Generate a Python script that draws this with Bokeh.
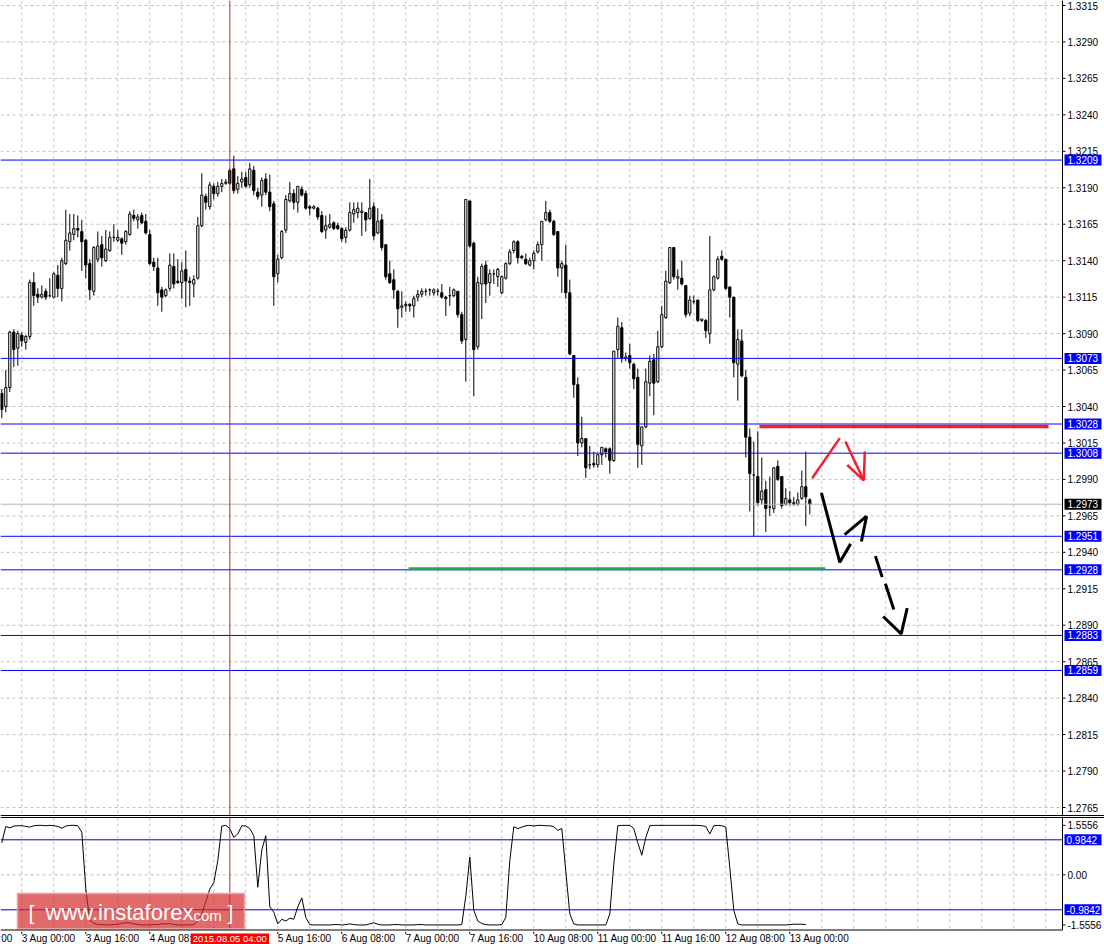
from bokeh.plotting import figure
from bokeh.layouts import column
from bokeh.models import Range1d, ColumnDataSource
from bokeh.embed import file_html
from bokeh.resources import INLINE
from bokeh.core.properties import value

# ------------------------------------------------------------------ data
# hourly bars, index 0 = 3 Aug 2015 00:00 (weekend removed)
bars = list(range(-5, 198))
opens = [
    1.3049, 1.3040, 1.3053, 1.3091, 1.3080, 1.3089, 1.3084, 1.3088, 1.3125, 1.3117,
    1.3115, 1.3119, 1.3116, 1.3115, 1.3130, 1.3121, 1.3138, 1.3153, 1.3158, 1.3162,
    1.3160, 1.3154, 1.3138, 1.3119, 1.3141, 1.3151, 1.3140, 1.3147, 1.3156, 1.3154,
    1.3155, 1.3153, 1.3158, 1.3171, 1.3168, 1.3171, 1.3167, 1.3158, 1.3139, 1.3135,
    1.3120, 1.3116, 1.3121, 1.3136, 1.3126, 1.3125, 1.3134, 1.3126, 1.3124, 1.3128,
    1.3164, 1.3184, 1.3177, 1.3191, 1.3186, 1.3191, 1.3193, 1.3202, 1.3203, 1.3189,
    1.3194, 1.3197, 1.3192, 1.3202, 1.3187, 1.3185, 1.3196, 1.3187, 1.3179, 1.3131,
    1.3142, 1.3161, 1.3181, 1.3186, 1.3180, 1.3189, 1.3186, 1.3177, 1.3176, 1.3176,
    1.3171, 1.3161, 1.3163, 1.3166, 1.3164, 1.3162, 1.3156, 1.3161, 1.3172, 1.3173,
    1.3173, 1.3173, 1.3169, 1.3177, 1.3159, 1.3168, 1.3151, 1.3131, 1.3127, 1.3119,
    1.3108, 1.3109, 1.3110, 1.3109, 1.3115, 1.3117, 1.3119, 1.3120, 1.3118, 1.3119,
    1.3118, 1.3115, 1.3116, 1.3116, 1.3119, 1.3103, 1.3086, 1.3181, 1.3152, 1.3081,
    1.3124, 1.3137, 1.3125, 1.3131, 1.3129, 1.3118, 1.3128, 1.3138, 1.3147, 1.3153,
    1.3143, 1.3141, 1.3137, 1.3140, 1.3146, 1.3151, 1.3168, 1.3173, 1.3167, 1.3160,
    1.3135, 1.3137, 1.3118, 1.3075, 1.3055, 1.3015, 1.3018, 1.3000, 1.3001, 1.3000,
    1.3007, 1.3011, 1.3011, 1.3003, 1.3079, 1.3094, 1.3073, 1.3075, 1.3069, 1.3060,
    1.3013, 1.3026, 1.3056, 1.3072, 1.3057, 1.3081, 1.3101, 1.3125, 1.3149, 1.3128,
    1.3128, 1.3123, 1.3104, 1.3112, 1.3113, 1.3099, 1.3099, 1.3090, 1.3120, 1.3128,
    1.3143, 1.3141, 1.3122, 1.3115, 1.3069, 1.3085, 1.3060, 1.3019, 1.2993, 1.2992,
    1.2976, 1.2983, 1.2971, 1.2970, 1.2999, 1.2992, 1.2973, 1.2976, 1.2974, 1.2973,
    1.2977, 1.2985, 1.2976,
]
highs = [
    1.3052, 1.3065, 1.3092, 1.3093, 1.3092, 1.3091, 1.3089, 1.3127, 1.3132, 1.3121,
    1.3123, 1.3121, 1.3128, 1.3132, 1.3137, 1.3142, 1.3175, 1.3172, 1.3172, 1.3171,
    1.3168, 1.3155, 1.3141, 1.3150, 1.3160, 1.3157, 1.3161, 1.3160, 1.3165, 1.3161,
    1.3156, 1.3161, 1.3174, 1.3175, 1.3172, 1.3173, 1.3172, 1.3161, 1.3142, 1.3142,
    1.3122, 1.3121, 1.3145, 1.3145, 1.3141, 1.3139, 1.3147, 1.3129, 1.3130, 1.3170,
    1.3200, 1.3186, 1.3194, 1.3193, 1.3194, 1.3196, 1.3196, 1.3203, 1.3212, 1.3198,
    1.3201, 1.3201, 1.3207, 1.3205, 1.3190, 1.3197, 1.3200, 1.3199, 1.3181, 1.3144,
    1.3161, 1.3185, 1.3194, 1.3189, 1.3191, 1.3191, 1.3188, 1.3178, 1.3178, 1.3177,
    1.3174, 1.3171, 1.3172, 1.3167, 1.3166, 1.3163, 1.3163, 1.3180, 1.3180, 1.3180,
    1.3180, 1.3173, 1.3196, 1.3180, 1.3176, 1.3172, 1.3151, 1.3140, 1.3134, 1.3120,
    1.3119, 1.3112, 1.3111, 1.3116, 1.3120, 1.3121, 1.3121, 1.3121, 1.3121, 1.3121,
    1.3124, 1.3116, 1.3122, 1.3121, 1.3119, 1.3105, 1.3182, 1.3181, 1.3153, 1.3129,
    1.3138, 1.3140, 1.3134, 1.3134, 1.3135, 1.3130, 1.3139, 1.3148, 1.3154, 1.3154,
    1.3144, 1.3145, 1.3142, 1.3147, 1.3153, 1.3167, 1.3181, 1.3175, 1.3168, 1.3160,
    1.3140, 1.3151, 1.3127, 1.3075, 1.3060, 1.3033, 1.3018, 1.3013, 1.3009, 1.3007,
    1.3012, 1.3012, 1.3012, 1.3078, 1.3101, 1.3098, 1.3077, 1.3083, 1.3070, 1.3066,
    1.3026, 1.3066, 1.3075, 1.3076, 1.3092, 1.3109, 1.3133, 1.3149, 1.3149, 1.3134,
    1.3140, 1.3123, 1.3116, 1.3116, 1.3113, 1.3100, 1.3100, 1.3157, 1.3130, 1.3143,
    1.3147, 1.3141, 1.3122, 1.3115, 1.3093, 1.3093, 1.3065, 1.3025, 1.3016, 1.3023,
    1.3005, 1.2989, 1.2992, 1.2998, 1.3003, 1.2992, 1.2984, 1.2982, 1.2978, 1.2981,
    1.2996, 1.3009, 1.2977,
]
lows = [
    1.3032, 1.3036, 1.3050, 1.3067, 1.3068, 1.3081, 1.3079, 1.3086, 1.3109, 1.3111,
    1.3114, 1.3113, 1.3115, 1.3114, 1.3115, 1.3112, 1.3137, 1.3147, 1.3154, 1.3156,
    1.3133, 1.3128, 1.3113, 1.3116, 1.3139, 1.3136, 1.3139, 1.3146, 1.3153, 1.3153,
    1.3144, 1.3151, 1.3157, 1.3167, 1.3162, 1.3165, 1.3158, 1.3137, 1.3133, 1.3109,
    1.3105, 1.3115, 1.3119, 1.3121, 1.3124, 1.3114, 1.3108, 1.3109, 1.3115, 1.3127,
    1.3163, 1.3175, 1.3175, 1.3182, 1.3184, 1.3187, 1.3192, 1.3192, 1.3186, 1.3186,
    1.3190, 1.3190, 1.3190, 1.3185, 1.3182, 1.3177, 1.3185, 1.3174, 1.3109, 1.3125,
    1.3141, 1.3159, 1.3180, 1.3175, 1.3173, 1.3184, 1.3175, 1.3171, 1.3175, 1.3168,
    1.3159, 1.3155, 1.3162, 1.3161, 1.3161, 1.3153, 1.3152, 1.3160, 1.3166, 1.3169,
    1.3157, 1.3160, 1.3168, 1.3154, 1.3158, 1.3147, 1.3127, 1.3124, 1.3114, 1.3094,
    1.3101, 1.3105, 1.3105, 1.3101, 1.3112, 1.3115, 1.3116, 1.3116, 1.3116, 1.3116,
    1.3114, 1.3102, 1.3109, 1.3115, 1.3101, 1.3083, 1.3057, 1.3149, 1.3047, 1.3079,
    1.3100, 1.3111, 1.3116, 1.3124, 1.3122, 1.3117, 1.3127, 1.3137, 1.3145, 1.3138,
    1.3141, 1.3137, 1.3136, 1.3134, 1.3145, 1.3140, 1.3167, 1.3166, 1.3157, 1.3129,
    1.3118, 1.3114, 1.3075, 1.3046, 1.3006, 1.3012, 1.2991, 1.2997, 1.2998, 1.2998,
    1.3000, 1.3005, 1.2994, 1.3002, 1.3073, 1.3070, 1.3071, 1.3066, 1.3052, 1.2998,
    1.3000, 1.3025, 1.3047, 1.3034, 1.3056, 1.3080, 1.3100, 1.3124, 1.3127, 1.3120,
    1.3123, 1.3101, 1.3102, 1.3110, 1.3098, 1.3098, 1.3087, 1.3083, 1.3119, 1.3127,
    1.3140, 1.3120, 1.3101, 1.3060, 1.3044, 1.3060, 1.3005, 1.2968, 1.2951, 1.2972,
    1.2973, 1.2954, 1.2965, 1.2967, 1.2989, 1.2970, 1.2972, 1.2972, 1.2972, 1.2972,
    1.2976, 1.2958, 1.2966,
]
closes = [
    1.3038, 1.3053, 1.3091, 1.3079, 1.3090, 1.3085, 1.3088, 1.3125, 1.3116, 1.3115,
    1.3117, 1.3115, 1.3116, 1.3131, 1.3121, 1.3140, 1.3154, 1.3159, 1.3162, 1.3161,
    1.3153, 1.3137, 1.3120, 1.3149, 1.3150, 1.3142, 1.3148, 1.3156, 1.3156, 1.3156,
    1.3152, 1.3160, 1.3172, 1.3169, 1.3170, 1.3166, 1.3159, 1.3138, 1.3136, 1.3118,
    1.3115, 1.3120, 1.3137, 1.3124, 1.3125, 1.3133, 1.3126, 1.3125, 1.3127, 1.3164,
    1.3185, 1.3180, 1.3192, 1.3186, 1.3191, 1.3193, 1.3194, 1.3193, 1.3188, 1.3193,
    1.3196, 1.3191, 1.3203, 1.3188, 1.3184, 1.3195, 1.3187, 1.3177, 1.3129, 1.3141,
    1.3160, 1.3182, 1.3186, 1.3180, 1.3191, 1.3185, 1.3176, 1.3176, 1.3177, 1.3170,
    1.3160, 1.3164, 1.3165, 1.3162, 1.3162, 1.3155, 1.3161, 1.3173, 1.3175, 1.3176,
    1.3174, 1.3168, 1.3176, 1.3157, 1.3167, 1.3149, 1.3129, 1.3125, 1.3120, 1.3107,
    1.3109, 1.3110, 1.3109, 1.3114, 1.3117, 1.3119, 1.3119, 1.3120, 1.3120, 1.3119,
    1.3115, 1.3114, 1.3116, 1.3120, 1.3103, 1.3085, 1.3182, 1.3150, 1.3079, 1.3125,
    1.3136, 1.3124, 1.3131, 1.3131, 1.3134, 1.3129, 1.3138, 1.3146, 1.3153, 1.3142,
    1.3142, 1.3138, 1.3140, 1.3145, 1.3151, 1.3167, 1.3173, 1.3167, 1.3158, 1.3135,
    1.3138, 1.3118, 1.3076, 1.3055, 1.3015, 1.3018, 1.2998, 1.3000, 1.3000, 1.3007,
    1.3012, 1.3009, 1.3003, 1.3078, 1.3095, 1.3073, 1.3074, 1.3070, 1.3059, 1.3014,
    1.3026, 1.3057, 1.3071, 1.3056, 1.3081, 1.3103, 1.3126, 1.3149, 1.3129, 1.3129,
    1.3124, 1.3103, 1.3113, 1.3112, 1.3099, 1.3100, 1.3092, 1.3120, 1.3129, 1.3141,
    1.3141, 1.3121, 1.3115, 1.3070, 1.3086, 1.3061, 1.3019, 1.2994, 1.2993, 1.2974,
    1.2982, 1.2970, 1.2971, 1.2998, 1.2990, 1.2972, 1.2977, 1.2974, 1.2973, 1.2976,
    1.2985, 1.2978, 1.2973,
]

# oscillator in the lower window
ind_bars = list(range(-5, 197))
ind_values = [
    0.90, 1.36, 1.32, 1.37, 1.38, 1.38, 1.36, 1.34, 1.38, 1.39,
    1.39, 1.38, 1.39, 1.38, 1.36, 1.31, 1.37, 1.39, 1.39, 1.38,
    1.20, -0.40, -1.28, -1.36, -1.40, -1.40, -1.41, -1.41, -1.40, -1.39,
    -1.36, -1.35, -1.35, -1.38, -1.40, -1.41, -1.41, -1.41, -1.40, -1.40,
    -1.38, -1.38, -1.37, -1.40, -1.41, -1.41, -1.41, -1.41, -1.40, -1.30,
    -1.10, -0.75, -0.40, -0.22, 0.40, 1.37, 1.39, 1.30, 1.05, 1.15,
    1.38, 1.37, 1.30, 1.10, -0.35, 0.70, 1.10, -0.90, -1.05, -1.38,
    -1.25, -1.30, -1.22, -1.25, -0.90, -0.65, -1.20, -1.40, -1.41, -1.41,
    -1.41, -1.41, -1.41, -1.40, -1.40, -1.41, -1.40, -1.38, -1.40, -1.41,
    -1.41, -1.41, -1.38, -1.35, -1.39, -1.41, -1.41, -1.41, -1.40, -1.40,
    -1.41, -1.41, -1.41, -1.41, -1.40, -1.40, -1.41, -1.41, -1.41, -1.41,
    -1.41, -1.41, -1.41, -1.41, -1.41, -1.40, -0.60, 0.50, -1.00, -1.30,
    -1.37, -1.40, -1.41, -1.41, -1.41, -1.40, -1.20, 0.40, 1.35, 1.30,
    1.34, 1.38, 1.39, 1.37, 1.39, 1.39, 1.38, 1.38, 1.35, 1.25,
    1.30, 0.10, -1.10, -1.38, -1.41, -1.41, -1.41, -1.41, -1.41, -1.41,
    -1.41, -1.41, -1.10, 0.30, 1.38, 1.39, 1.39, 1.39, 1.30, 0.90,
    0.55, 1.05, 1.38, 1.39, 1.39, 1.39, 1.39, 1.39, 1.39, 1.39,
    1.39, 1.39, 1.39, 1.39, 1.39, 1.38, 1.36, 1.15, 1.38, 1.39,
    1.38, 1.34, 0.20, -1.00, -1.38, -1.41, -1.41, -1.41, -1.41, -1.41,
    -1.41, -1.41, -1.41, -1.41, -1.41, -1.41, -1.41, -1.40, -1.39, -1.39,
    -1.39, -1.40,
]
ind_levels = [0.9842, -0.9842]
ind_level_labels = ["0.9842", "-0.9842"]
ind_scale_labels = ["1.5556", "0.00", "-1.5556"]

# price scale ticks
price_ticks = [1.3315, 1.3290, 1.3265, 1.3240, 1.3215, 1.3190, 1.3165, 1.3140,
               1.3115, 1.3090, 1.3065, 1.3040, 1.3015, 1.2990, 1.2965, 1.2940,
               1.2915, 1.2890, 1.2865, 1.2840, 1.2815, 1.2790, 1.2765]
price_tick_labels = ["%.4f" % v for v in price_ticks]
# horizontal levels drawn on the chart
level_prices = [1.3209, 1.3073, 1.3028, 1.3008, 1.2951, 1.2928, 1.2883, 1.2859]
level_labels = ["%.4f" % v for v in level_prices]

# time scale
time_tick_bars = [-16, 0, 16, 32, 64, 80, 96, 112, 128, 144, 160, 176, 192]
time_tick_labels = ["31 Jul 08:00", "3 Aug 00:00", "3 Aug 16:00", "4 Aug 08:00",
                    "5 Aug 16:00", "6 Aug 08:00", "7 Aug 00:00", "7 Aug 16:00",
                    "10 Aug 08:00", "11 Aug 00:00", "11 Aug 16:00", "12 Aug 08:00",
                    "13 Aug 00:00"]
crosshair_bar = 52
crosshair_label = "2015.08.05 04:00"

# analyst drawings (bar index, price)
red_level = {"x": [184.4, 256.7], "y": [1.30263, 1.30263]}
green_level = {"x": [96.7, 200.9], "y": [1.29287, 1.29287]}
red_arrow_x = [[197.6, 204.5], [205.9, 210.5], [206.35, 210.5], [210.75, 210.5]]
red_arrow_y = [[1.29908, 1.30183], [1.30160, 1.29893], [1.29999, 1.29893], [1.30091, 1.29893]]
black_arrow_x = [[199.9, 204.5, 207.2], [205.7, 211.2], [209.9, 211.2],
                 [213.4, 215.1], [215.9, 218.0], [215.35, 219.85, 221.35]]
black_arrow_y = [[1.29808, 1.29332, 1.29458], [1.29522, 1.29648], [1.29474, 1.29648],
                 [1.29374, 1.29230], [1.29184, 1.29008], [1.28960, 1.28841, 1.29017]]

# ------------------------------------------------------------------ geometry
REF_W = 1104
PAGE_W = 1104
BAR0_PX, PX_PER_BAR = 21.3, 4.0
PRICE_REF, PRICE_REF_Y, PX_PER_PRICE = 1.3315, 5.0, 14582.0
IND_ZERO_Y, PX_PER_IND = 874.3, 35.56
AXIS_PX = 1062
MAIN_H, IND_H, LAB_H = 816, 115, 13


def bx(px):
    return (px - BAR0_PX) / PX_PER_BAR


def yp(py):
    return PRICE_REF - (py - PRICE_REF_Y) / PX_PER_PRICE


def yi(py):
    return (IND_ZERO_Y - py) / PX_PER_IND


FONT = value("Liberation Sans")
GRID_C = "#c0c0c0"
BLUE = "#0000ff"
CROSS_C = "#e01e1e"
LBL = "10px"

xr = Range1d(bx(0), bx(REF_W))


def make_fig(h, yr):
    f = figure(width=PAGE_W, height=h, x_range=xr, y_range=yr,
               output_backend="svg", toolbar_location=None,
               x_axis_location=None, y_axis_location=None, min_border=0,
               outline_line_color=None, background_fill_color="white",
               border_fill_color="white")
    f.grid.visible = False
    return f


grid_bars = [b for b in range(0, 400, 8) if BAR0_PX + PX_PER_BAR * b < AXIS_PX - 4]

# ------------------------------------------------------------------ main window
main = make_fig(MAIN_H, Range1d(yp(816), yp(0)))

main.segment(x0=grid_bars, x1=grid_bars, y0=[yp(0)] * len(grid_bars), y1=[yp(815)] * len(grid_bars),
             line_color=GRID_C, line_width=1, line_dash="3 3")
main.segment(x0=[bx(0)] * len(price_ticks), x1=[bx(AXIS_PX - 2)] * len(price_ticks),
             y0=price_ticks, y1=price_ticks, line_color=GRID_C, line_width=1, line_dash="3 3")

body_top = [max(o, c) for o, c in zip(opens, closes)]
body_bot = [min(o, c) for o, c in zip(opens, closes)]
body_col = ["white" if c >= o else "black" for o, c in zip(opens, closes)]
src = ColumnDataSource(dict(x=bars, o=opens, h=highs, l=lows, c=closes,
                            top=body_top, bot=body_bot, col=body_col))
main.segment(x0="x", x1="x", y0="l", y1="h", source=src, line_color="black", line_width=1)
main.vbar(x="x", width=0.55, top="top", bottom="bot", source=src,
          fill_color="col", line_color="black", line_width=1)

# level lines
n_lv = len(level_prices)
main.segment(x0=[bx(0)] * n_lv, x1=[bx(AXIS_PX)] * n_lv, y0=level_prices, y1=level_prices,
             line_color=BLUE, line_width=1)
last_close = closes[-1]
main.segment(x0=[bx(0)], x1=[bx(AXIS_PX)], y0=[last_close], y1=[last_close],
             line_color="#b4b4b4", line_width=1)

# drawings
main.line(x=green_level["x"], y=green_level["y"], line_color="#22a84a", line_width=3)
main.line(x=red_level["x"], y=red_level["y"], line_color="#ee2233", line_width=3.5)
main.multi_line(xs=red_arrow_x, ys=red_arrow_y, line_color="#ee2233", line_width=2.5)
main.multi_line(xs=black_arrow_x, ys=black_arrow_y, line_color="black", line_width=3)

# crosshair
main.segment(x0=[crosshair_bar], x1=[crosshair_bar], y0=[yp(0)], y1=[yp(815)],
             line_color=CROSS_C, line_width=1)

# right price scale
main.segment(x0=[bx(AXIS_PX)], x1=[bx(AXIS_PX)], y0=[yp(0)], y1=[yp(816)], line_color="black", line_width=1)
main.segment(x0=[bx(0)], x1=[bx(REF_W)], y0=[yp(815)], y1=[yp(815)], line_color="black", line_width=1)
n_pt = len(price_ticks)
main.segment(x0=[bx(AXIS_PX)] * n_pt, x1=[bx(AXIS_PX + 3)] * n_pt, y0=price_ticks, y1=price_ticks,
             line_color="black", line_width=1)
main.text(x=[bx(AXIS_PX + 5)] * n_pt, y=price_ticks, text=price_tick_labels,
          text_font=FONT, text_font_size=LBL, text_align="left", text_baseline="middle",
          text_color="black")
half = 5.5 / PX_PER_PRICE
main.quad(left=[bx(AXIS_PX + 2)] * n_lv, right=[bx(AXIS_PX + 39)] * n_lv,
          top=[v + half for v in level_prices], bottom=[v - half for v in level_prices],
          fill_color=BLUE, line_color=None)
main.text(x=[bx(AXIS_PX + 5)] * n_lv, y=level_prices, text=level_labels,
          text_font=FONT, text_font_size=LBL, text_align="left", text_baseline="middle",
          text_color="white")
main.quad(left=[bx(AXIS_PX + 2)], right=[bx(AXIS_PX + 39)], top=[last_close + half],
          bottom=[last_close - half], fill_color="black", line_color=None)
main.text(x=[bx(AXIS_PX + 5)], y=[last_close], text=["%.4f" % last_close],
          text_font=FONT, text_font_size=LBL, text_align="left", text_baseline="middle",
          text_color="white")

# ------------------------------------------------------------------ indicator window
ind = make_fig(IND_H, Range1d(yi(931), yi(816)))
ind.segment(x0=grid_bars, x1=grid_bars, y0=[yi(817)] * len(grid_bars), y1=[yi(929.5)] * len(grid_bars),
            line_color=GRID_C, line_width=1, line_dash="3 3")
ind.segment(x0=[bx(0)], x1=[bx(AXIS_PX - 2)], y0=[0], y1=[0], line_color=GRID_C,
            line_width=1, line_dash="3 3")
ind.segment(x0=[bx(0)] * 2, x1=[bx(AXIS_PX)] * 2, y0=ind_levels, y1=ind_levels,
            line_color="#0000c8", line_width=1)
ind.line(x=ind_bars, y=ind_values, line_color="black", line_width=1)
ind.segment(x0=[crosshair_bar], x1=[crosshair_bar], y0=[yi(816)], y1=[yi(929.5)],
            line_color=CROSS_C, line_width=1)

# watermark
ind.quad(left=[bx(17)], right=[bx(244)], top=[yi(893)], bottom=[yi(928.3)],
         fill_color="#d42b2b", fill_alpha=0.7, line_color="#eaa0a0", line_width=1.5)
ind.text(x=[bx(28), bx(45), bx(193), bx(227)], y=[yi(912.0), yi(911.5), yi(914.5), yi(912.0)],
         text=["[", "www.instaforex", "com", "]"],
         text_font=FONT, text_font_size=["21px", "22px", "15px", "21px"],
         text_align="left", text_baseline="middle", text_color="white")

# borders & scale
ind.segment(x0=[bx(0), bx(0)], x1=[bx(REF_W), bx(AXIS_PX)], y0=[yi(817), yi(929.5)],
            y1=[yi(817), yi(929.5)], line_color="black", line_width=1)
ind.segment(x0=[bx(AXIS_PX)], x1=[bx(AXIS_PX)], y0=[yi(816)], y1=[yi(929.5)],
            line_color="black", line_width=1)
scale_pos = [max(ind_values), 0.0, min(ind_values)]
ind.segment(x0=[bx(AXIS_PX)] * 3, x1=[bx(AXIS_PX + 3)] * 3, y0=scale_pos, y1=scale_pos,
            line_color="black", line_width=1)
ind.text(x=[bx(AXIS_PX + 5)] * 3, y=scale_pos, text=ind_scale_labels,
         text_font=FONT, text_font_size=LBL, text_align="left", text_baseline="middle",
         text_color="black")
ihalf = 5.5 / PX_PER_IND
ind.quad(left=[bx(AXIS_PX + 2)] * 2, right=[bx(AXIS_PX + 39)] * 2,
         top=[v + ihalf for v in ind_levels], bottom=[v - ihalf for v in ind_levels],
         fill_color=BLUE, line_color=None)
ind.text(x=[bx(AXIS_PX + 4)] * 2, y=ind_levels, text=ind_level_labels,
         text_font=FONT, text_font_size=LBL, text_align="left", text_baseline="middle",
         text_color="white")

# ------------------------------------------------------------------ time labels strip
lab = make_fig(LAB_H, Range1d(944, 931))
n_t = len(time_tick_bars)
lab.segment(x0=time_tick_bars, x1=time_tick_bars, y0=[931] * n_t, y1=[933.5] * n_t,
            line_color="black", line_width=1)
lab.text(x=time_tick_bars, y=[938.0] * n_t, text=time_tick_labels, text_font=FONT,
         text_font_size=LBL, text_align="left", text_baseline="middle", text_color="black")
lab.quad(left=[crosshair_bar - 9.8], right=[crosshair_bar + 9.8], top=[933], bottom=[944],
         fill_color="#ff0000", line_color=None)
lab.text(x=[crosshair_bar], y=[938.0], text=[crosshair_label], text_font=FONT,
         text_font_size="9.5px", text_align="center", text_baseline="middle", text_color="white")

layout = column(main, ind, lab, spacing=0)
open("out.html", "w").write(file_html(layout, INLINE))
